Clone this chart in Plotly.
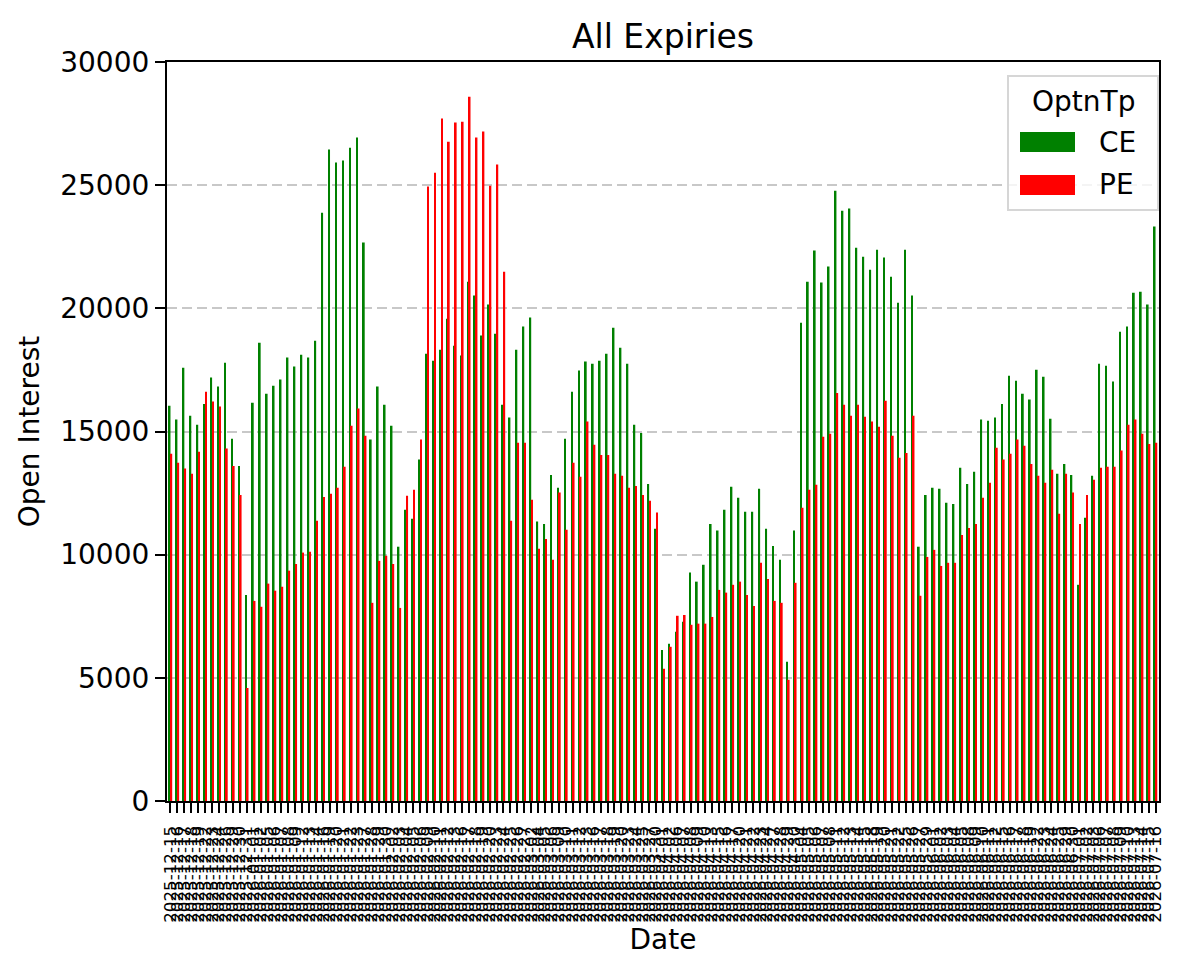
import pandas as pd
import plotly.graph_objects as go

# Trading days 2025-12-15 .. 2026-07-16 (exchange holidays removed)
holidays = ["2025-12-25", "2026-01-15", "2026-01-26", "2026-03-03", "2026-03-26",
            "2026-03-31", "2026-04-03", "2026-04-14", "2026-05-01", "2026-05-28",
            "2026-06-26"]
dates = [d.strftime("%Y-%m-%d") for d in pd.bdate_range("2025-12-15", "2026-07-16")
         if d.strftime("%Y-%m-%d") not in holidays]

ce_oi = [16042, 15484, 17587, 15643, 15277, 16121, 17188, 16822, 17794, 14703, 13604, 8363,
         16169, 18606, 16535, 16854, 17109, 18001, 17635, 18112, 18001, 18686, 23879, 26444,
         25918, 25998, 26523, 26938, 22668, 14672, 16822, 16089, 15229, 10323, 11820, 11454,
         13859, 18160, 17873, 18320, 19578, 18479, 18081, 21075, 20518, 18893, 20151, 18973,
         16089, 15564, 18320, 19259, 19626, 11342, 11247, 13238, 12712, 14703, 16615, 17475,
         17842, 17746, 17873, 18160, 19212, 18399, 17746, 15277, 14942, 12871, 11055, 6133, 6388,
         6866, 7280, 9271, 8905, 9590, 11247, 10976, 11820, 12760, 12314, 11740, 11740,
         12680, 11055, 10354, 9797, 5655, 10976, 19419, 21075, 22350, 21044, 21697, 24771,
         23959, 24054, 22461, 22095, 21569, 22382, 22063, 21282, 20231, 22382, 20518, 10323,
         12425, 12712, 12680, 12107, 12059, 13524, 12871, 13365, 15484, 15436, 15564, 16121,
         17268, 17061, 16535, 16296, 17507, 17220, 15516, 13286, 13684, 13238, 8777,
         11501, 13206, 17746, 17666, 17029, 19052, 19259, 20629, 20677, 20151, 23321]

pe_oi = [14098, 13732, 13493, 13286, 14178, 16615, 16217, 16010, 14305, 13604, 12425, 4588,
         8124, 7885, 8825, 8538, 8698, 9351, 9622, 10084, 10116, 11374, 12346, 12473,
         12712, 13572, 15229, 15930, 14831, 8045, 9749, 9956, 9622, 7838, 12394, 12632,
         14672, 24946, 25504, 27702, 26762, 27543, 27575, 28594, 26938, 27177, 24978, 25838,
         21490, 11374, 14544, 14544, 12234, 10243, 10641, 9797, 12521, 11008, 13732, 13158,
         15404, 14464, 14050, 14050, 13286, 13206, 12712, 12792, 12425, 12186, 11709, 5368, 6260,
         7519, 7551, 7153, 7200, 7200, 7471, 8570, 8459, 8777, 8905, 8363, 7917,
         9670, 9016, 8124, 8045, 4922, 8857, 11900, 12632, 12840, 14783, 14910, 16567,
         16089, 15643, 16089, 15595, 15404, 15197, 16249, 14831, 13939, 14130, 15643, 8331,
         9908, 10195, 9542, 9670, 9670, 10801, 11087, 11247, 12314, 12919, 14337, 13859,
         14098, 14672, 14417, 13684, 13206, 12919, 13445, 11661, 13286, 12521, 11247,
         12425, 13046, 13524, 13572, 13572, 14225, 15277, 15484, 14910, 14496, 14544]

series_names = ["CE", "PE"]
series_colors = ["green", "red"]
legend_title = "OptnTp"

n = min(len(dates), len(ce_oi), len(pe_oi))
dates, ce_oi, pe_oi = dates[:n], ce_oi[:n], pe_oi[:n]

FONT = "DejaVu Sans"
fig = go.Figure()
for name, vals, col in zip(series_names, [ce_oi, pe_oi], series_colors):
    fig.add_trace(go.Bar(x=dates, y=vals, name=name,
                         marker=dict(color=col, line=dict(width=0))))

W, H = 1184, 976
L, R, T, B = 167, 25, 62, 175
PW, PH = W - L - R, H - T - B


def px_x(p):
    return (p - L) / PW


def px_y(p):
    return (H - B - p) / PH


# Matplotlib-style legend box (drawn in paper coordinates)
shapes = [dict(type="path", xref="paper", yref="paper",
               path=("M {x0},{y1} L {x1},{y1} L {x1},{y0} L {x0},{y0} Z").format(
                   x0=px_x(1008), x1=px_x(1158), y0=px_y(210), y1=px_y(76)),
               fillcolor="rgba(255,255,255,0.8)", line=dict(color="#d6d6d6", width=2),
               layer="above")]
annotations = [dict(text=legend_title, x=px_x(1083), y=px_y(102), xref="paper", yref="paper",
                    showarrow=False, xanchor="center", yanchor="middle",
                    font=dict(size=28, family=FONT, color="black"))]
for k, (name, col) in enumerate(zip(series_names, series_colors)):
    cy = 142 + 43 * k
    shapes.append(dict(type="rect", xref="paper", yref="paper",
                       x0=px_x(1020), x1=px_x(1075), y0=px_y(cy + 10), y1=px_y(cy - 10),
                       fillcolor=col, line=dict(width=0), layer="above"))
    annotations.append(dict(text=name, x=px_x(1097), y=px_y(cy), xref="paper", yref="paper",
                            showarrow=False, xanchor="left", yanchor="middle",
                            font=dict(size=28, family=FONT, color="black")))

fig.update_layout(
    width=W, height=H,
    margin=dict(l=L, r=R, t=T, b=B, autoexpand=False),
    paper_bgcolor="white", plot_bgcolor="white",
    barmode="group", bargap=0.5, bargroupgap=0,
    font=dict(family=FONT, color="black", size=28),
    title=dict(text="All Expiries", x=(L + PW / 2) / W, xanchor="center",
               y=1 - 36 / H, yanchor="middle", yref="container",
               font=dict(size=33, family=FONT, color="black")),
    showlegend=False,
    shapes=shapes, annotations=annotations,
)
fig.update_xaxes(
    type="category", range=[-0.5, n - 0.5],
    tickmode="array", tickvals=dates, ticktext=dates,
    tickangle=-90, tickfont=dict(size=16.7, family=FONT),
    ticks="outside", ticklen=10, tickwidth=2.2, tickcolor="black",
    ticklabelstandoff=6,
    showline=True, linecolor="black", linewidth=2.2, mirror=True,
    showgrid=False, automargin=False,
    title=dict(text="Date", font=dict(size=28), standoff=6),
)
fig.update_yaxes(
    range=[0, 30000], tickmode="array", tickvals=[0, 5000, 10000, 15000, 20000, 25000, 30000],
    tickformat="d", tickfont=dict(size=28, family=FONT),
    ticks="outside", ticklen=10, tickwidth=2.2, tickcolor="black",
    showline=True, linecolor="black", linewidth=2.2, mirror=True,
    showgrid=True, gridcolor="#c8c8c8", gridwidth=2, griddash="10px,5px",
    zeroline=False, automargin=False,
    title=dict(text="Open Interest", font=dict(size=28), standoff=12),
)
fig.write_html("out.html")
